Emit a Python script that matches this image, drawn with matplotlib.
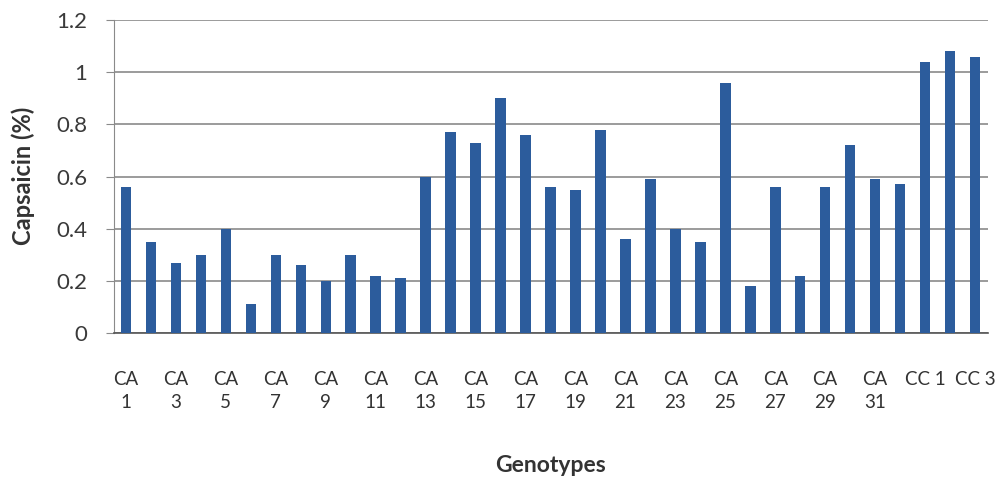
import matplotlib
matplotlib.use("Agg")
import matplotlib.pyplot as plt
import numpy as np

plt.rcParams['font.family'] = ['Lato', 'DejaVu Sans']

# capsaicin content per genotype
genotypes = ['CA %d' % i for i in range(1, 33)] + ['CC 1', 'CC 2', 'CC 3']
capsaicin = [0.56, 0.35, 0.27, 0.30, 0.40, 0.11, 0.30, 0.26, 0.20, 0.30,
             0.22, 0.21, 0.60, 0.77, 0.73, 0.90, 0.76, 0.56, 0.55, 0.78,
             0.36, 0.59, 0.40, 0.35, 0.96, 0.18, 0.56, 0.22, 0.56, 0.72,
             0.59, 0.57, 1.04, 1.08, 1.06]
y_ticks = [0, 0.2, 0.4, 0.6, 0.8, 1, 1.2]
y_tick_labels = ['0', '0.2', '0.4', '0.6', '0.8', '1', '1.2']

fig = plt.figure(figsize=(10.08, 4.82), dpi=100)
ax = fig.add_axes([0.1126, 0.309, 0.8671, 0.6495])

x = np.arange(len(genotypes))
ax.bar(x, capsaicin, width=0.42, color='#2C5C9C', zorder=3)

ax.set_xlim(-0.5, len(genotypes) - 0.5)
ax.set_ylim(0, 1.2)
ax.set_yticks(y_ticks)
ax.set_yticklabels(y_tick_labels, fontsize=16, color='#3a3a3a')
ax.yaxis.grid(True, color='#8a8a8a', linewidth=1.2, zorder=0)

# every second genotype is labelled, Excel wraps "CA n" onto two lines
tick_pos = list(range(0, 32, 2)) + [32, 34]
tick_labels = []
for i in tick_pos:
    name = genotypes[i]
    if name.startswith('CA'):
        tick_labels.append(name.replace(' ', '\n'))
    else:
        tick_labels.append(name)
ax.set_xticks(tick_pos)
ax.set_xticklabels(tick_labels, fontsize=13.5, color='#333333',
                   linespacing=1.45, va='top', multialignment='center')
ax.tick_params(axis='x', length=0, pad=27)
ax.tick_params(axis='y', length=6, color='#8a8a8a', pad=13)

for side in ['top', 'right']:
    ax.spines[side].set_visible(False)
ax.spines['left'].set_color('#8a8a8a')
ax.spines['bottom'].set_color('#555555')
ax.spines['bottom'].set_linewidth(1.2)

fig.text(550 / 1008, 1 - 465 / 482, 'Genotypes', ha='center', va='center',
         fontsize=16.5, fontweight='bold', color='#333333')
fig.text(23 / 1008, 1 - 176 / 482, 'Capsaicin (%)', ha='center', va='center',
         rotation=90, fontsize=17, fontweight='bold', color='#333333')

fig.savefig('out.png', dpi=100)
